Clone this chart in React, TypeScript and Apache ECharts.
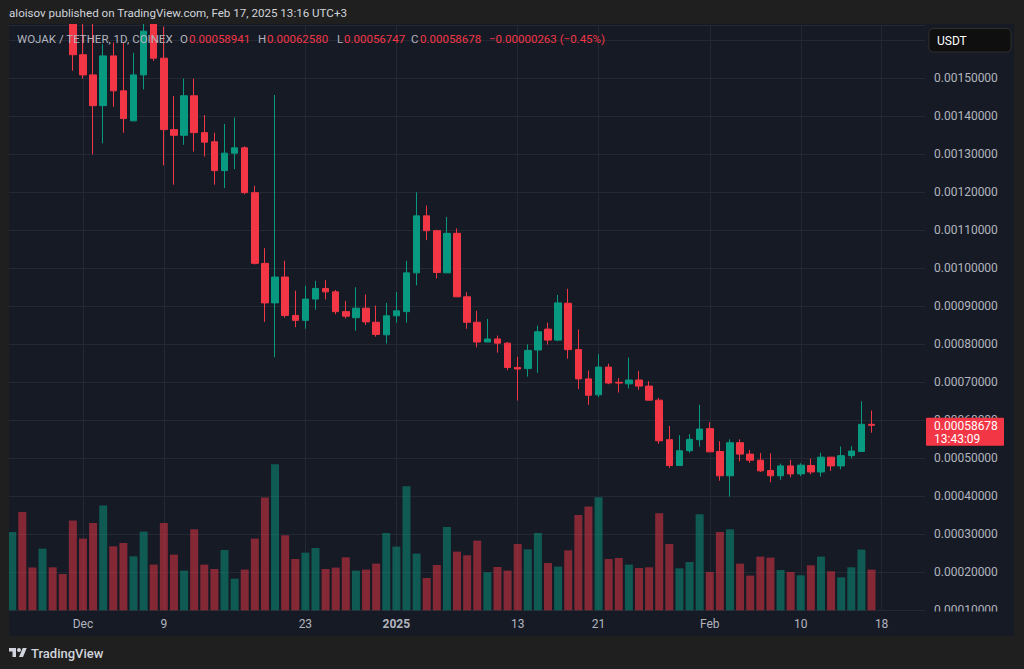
import React, { useEffect, useRef } from "react";
import * as echarts from "echarts";

// Daily candles, Nov 24 2024 (index 0) .. Feb 17 2025 (index 85)
const opens = [
  0.00172, 0.00181, 0.00176, 0.00171, 0.00178, 0.00172, 0.00168, 0.001562, 0.001509, 0.001428,
  0.001559, 0.001467, 0.001388, 0.001509, 0.00165, 0.001553, 0.001365, 0.00135, 0.001454, 0.001357,
  0.001333, 0.001257, 0.001303, 0.001317, 0.001199, 0.001013, 0.000909, 0.000977, 0.000876, 0.000863,
  0.000919, 0.000947, 0.000938, 0.000886, 0.00087, 0.000895, 0.000858, 0.000825, 0.000875, 0.000886,
  0.000988, 0.001138, 0.001099, 0.000988, 0.001092, 0.000925, 0.000858, 0.000806, 0.000814, 0.000803,
  0.000739, 0.000736, 0.000785, 0.00084, 0.000811, 0.000908, 0.000786, 0.000709, 0.000667, 0.00074,
  0.0007, 0.000696, 0.000706, 0.00069, 0.000653, 0.000549, 0.000481, 0.00052, 0.000549, 0.000578,
  0.000518, 0.000454, 0.000541, 0.000511, 0.000495, 0.000468, 0.000454, 0.00048, 0.000459, 0.000481,
  0.000464, 0.000503, 0.00048, 0.000507, 0.000518, 0.00058941,
];
const closes = [
  0.00181, 0.00176, 0.00171, 0.00178, 0.00172, 0.00168, 0.001562, 0.001509, 0.001428, 0.001559,
  0.001467, 0.001394, 0.001509, 0.001624, 0.001553, 0.001365, 0.00135, 0.001454, 0.001357, 0.001332,
  0.001257, 0.001303, 0.001317, 0.001199, 0.001013, 0.000909, 0.000977, 0.000876, 0.000863, 0.000919,
  0.000947, 0.000938, 0.000886, 0.000874, 0.000895, 0.000859, 0.000826, 0.000875, 0.000888, 0.000988,
  0.001138, 0.001099, 0.000989, 0.001092, 0.000925, 0.000858, 0.000806, 0.000814, 0.000803, 0.000739,
  0.000735, 0.000784, 0.000833, 0.000811, 0.000909, 0.000786, 0.000709, 0.000666, 0.00074, 0.000698,
  0.000698, 0.000706, 0.00069, 0.000653, 0.000546, 0.000481, 0.00052, 0.00055, 0.000577, 0.000517,
  0.000454, 0.000541, 0.000511, 0.000495, 0.000467, 0.000454, 0.00048, 0.000459, 0.000482, 0.000464,
  0.000503, 0.00048, 0.000507, 0.000519, 0.00058941, 0.00058678,
];
const lows = [
  0.00169, 0.00173, 0.00168, 0.00169, 0.0017, 0.00166, 0.00152, 0.001499, 0.0013, 0.001329,
  0.001425, 0.001357, 0.001388, 0.001471, 0.001546, 0.001271, 0.00122, 0.001325, 0.001307, 0.001294,
  0.00122, 0.001211, 0.001261, 0.001195, 0.00101, 0.000859, 0.000766, 0.00087, 0.000845, 0.000841,
  0.000891, 0.000918, 0.000879, 0.000868, 0.000836, 0.000851, 0.00082, 0.000802, 0.000857, 0.000857,
  0.000955, 0.001074, 0.000973, 0.000988, 0.000925, 0.000841, 0.000792, 0.000806, 0.000778, 0.000732,
  0.000652, 0.000715, 0.000725, 0.000799, 0.000808, 0.000762, 0.000682, 0.000641, 0.000661, 0.000695,
  0.000673, 0.000684, 0.00068, 0.000653, 0.000538, 0.000475, 0.000481, 0.000515, 0.000531, 0.000517,
  0.000441, 0.000399, 0.000492, 0.000488, 0.000464, 0.000437, 0.000443, 0.00045, 0.000453, 0.000458,
  0.000452, 0.000467, 0.000471, 0.0005, 0.000518, 0.00056747,
];
const highs = [
  0.00186, 0.00184, 0.00178, 0.00182, 0.0018, 0.00174, 0.0017, 0.00165, 0.00165, 0.00159,
  0.001594, 0.001594, 0.001567, 0.00165, 0.00166, 0.001636, 0.001453, 0.001499, 0.001499, 0.001403,
  0.001357, 0.00138, 0.001397, 0.001321, 0.001217, 0.001053, 0.001456, 0.00102, 0.000941, 0.000954,
  0.000967, 0.000969, 0.000943, 0.000914, 0.00095, 0.000931, 0.000902, 0.000909, 0.000938, 0.00102,
  0.0012, 0.001165, 0.001101, 0.001135, 0.001105, 0.000937, 0.000888, 0.000867, 0.000823, 0.000806,
  0.000767, 0.0008, 0.000849, 0.000857, 0.00093, 0.000946, 0.000839, 0.000731, 0.000774, 0.000749,
  0.000711, 0.000765, 0.00073, 0.000703, 0.000659, 0.000585, 0.000561, 0.000564, 0.000641, 0.000595,
  0.000545, 0.00055, 0.00055, 0.000522, 0.000514, 0.000513, 0.000486, 0.000496, 0.000487, 0.000499,
  0.000515, 0.000503, 0.000531, 0.000532, 0.00065, 0.0006258,
];
// Relative volume (arbitrary units)
const volumes = [
  78.3, 98.3, 42.7, 61.7, 43, 36.3, 89.7, 71.7, 87.3, 104.7,
  64, 67.3, 54, 78.7, 45.7, 87.3, 55.7, 39.7, 81, 45.7,
  41.3, 60.3, 31.7, 40.7, 71.7, 112.7, 146, 75, 51.3, 57.7,
  62.3, 41.3, 42.7, 53, 39.7, 40.7, 46.7, 77.3, 63.7, 124,
  56.7, 32.3, 45.3, 83.3, 58.7, 55, 69.7, 38, 43.3, 39.7,
  66.3, 61, 77.3, 47.3, 43.7, 60, 95.3, 103.7, 113, 51.3,
  52.3, 45.7, 42.3, 43, 97, 66.3, 42, 48.3, 96, 38.3,
  78.3, 81, 46.7, 34.7, 53.7, 52.7, 40.3, 38.3, 35, 45,
  53.7, 39, 33, 43, 60.7, 40.7,
];
// x-axis tick positions (day index) and labels
const tickIdx = [7, 15, 29, 38, 50, 58, 69, 78, 86];
const tickLabels = ["Dec", "9", "23", "2025", "13", "21", "Feb", "10", "18"];
const countdown = "13:43:09";

const UP = "#089981";
const DOWN = "#f23645";
const UP_VOL = "rgba(8,153,129,0.5)";
const DOWN_VOL = "rgba(242,54,69,0.5)";
const PANE = "#161a25";
const OUTER = "#1f1f1f";
const GRID = "#242833";
const AXIS_TXT = "#b2b5be";
const FONT = "Roboto, 'Noto Sans', sans-serif";

const TV_LOGO = "M14 22H7V11H0V4h14v18zM28 22h-8l7.5-18h8L28 22z";

export default function App() {
  const ref = useRef<HTMLDivElement>(null);

  useEffect(() => {
    document.body.style.margin = "0";
    try {
      echarts.graphic.registerShape("tvlogo", echarts.graphic.extendPath(TV_LOGO, {}));
    } catch (e) {}
    const chart = echarts.init(ref.current!, null, { renderer: "svg" });

    const n = closes.length;
    const last = n - 1;
    const candleData = closes.map((c, i) => [i, opens[i], c, lows[i], highs[i]]);
    const volData = volumes.map((v, i) => ({
      value: [i, v],
      itemStyle: { color: closes[i] >= opens[i] ? UP_VOL : DOWN_VOL },
    }));

    chart.setOption({
      animation: false,
      backgroundColor: PANE,
      grid: { left: 9, right: 99, top: 25.1, bottom: 58.7 },
      xAxis: {
        type: "value",
        min: -0.3165,
        max: 90.29,
        axisLine: { show: false },
        axisTick: { show: false, customValues: tickIdx },
        axisLabel: {
          customValues: tickIdx,
          color: AXIS_TXT,
          fontSize: 12,
          fontFamily: FONT,
          margin: 8,
          formatter: (v: number) => {
            const k = tickIdx.indexOf(Math.round(v));
            const t = k >= 0 ? tickLabels[k] : "";
            return t === "2025" ? "{b|" + t + "}" : t;
          },
          rich: { b: { fontWeight: "bold", color: AXIS_TXT, fontSize: 12, fontFamily: FONT } },
        },
        splitLine: { show: true, lineStyle: { color: GRID, width: 1 } },
      },
      yAxis: [
        {
          type: "value",
          position: "right",
          min: 0.0001,
          max: 0.00164,
          interval: 0.0001,
          axisLine: { show: false },
          axisTick: { show: false },
          axisLabel: {
            color: AXIS_TXT,
            fontSize: 12,
            fontFamily: FONT,
            margin: 9,
            showMaxLabel: false,
            // the 0.0016 label sits under the currency box in the reference
            formatter: (v: number) => (v > 0.00155 ? "" : v.toFixed(8)),
          },
          splitLine: { show: true, lineStyle: { color: GRID, width: 1 } },
        },
        {
          type: "value",
          min: 0,
          max: 585.2,
          show: false,
          splitLine: { show: false },
        },
      ],
      series: [
        {
          type: "bar",
          xAxisIndex: 0,
          yAxisIndex: 1,
          data: volData,
          barWidth: 8,
          z: 2,
        },
        {
          type: "candlestick",
          xAxisIndex: 0,
          yAxisIndex: 0,
          data: candleData,
          encode: { x: 0, y: [1, 2, 3, 4] },
          barWidth: 7,
          clip: true,
          z: 3,
          itemStyle: {
            color: UP,
            color0: DOWN,
            borderColor: UP,
            borderColor0: DOWN,
            borderWidth: 1,
          },
          markLine: {
            silent: true,
            symbol: ["none", "none"],
            label: { show: false },
            lineStyle: { color: DOWN, type: [1.5, 2.5], width: 1 },
            data: [{ yAxis: closes[last] }],
          },
        },
      ],
    });

    const py = chart.convertToPixel({ yAxisIndex: 0 }, closes[last]) as number;
    const chg = closes[last] - closes[last - 1];
    const pct = (chg / closes[last - 1]) * 100;
    const fmt = (v: number) => v.toFixed(8).replace("-", "\u2212");
    const chgText = fmt(chg) + " (" + pct.toFixed(2).replace("-", "\u2212") + "%)";

    const txt = (text: string, x: number, y: number, fill: string, size: number, extra: any = {}) => ({
      type: "text",
      x,
      y,
      z: 60,
      silent: true,
      style: { text, fill, fontSize: size, fontFamily: FONT, verticalAlign: "middle", align: "left", ...extra },
    });

    chart.setOption({
      graphic: {
        elements: [
          // outer frame
          { type: "rect", z: 50, silent: true, shape: { x: 0, y: 0, width: 1024, height: 24 }, style: { fill: OUTER } },
          { type: "rect", z: 50, silent: true, shape: { x: 0, y: 636, width: 1024, height: 33 }, style: { fill: OUTER } },
          { type: "rect", z: 50, silent: true, shape: { x: 0, y: 0, width: 9, height: 669 }, style: { fill: OUTER } },
          { type: "rect", z: 50, silent: true, shape: { x: 1014, y: 0, width: 10, height: 669 }, style: { fill: OUTER } },
          // cut the lowest price label at the pane bottom
          { type: "rect", z: 50, silent: true, shape: { x: 926, y: 611.5, width: 88, height: 24.5 }, style: { fill: PANE } },
          txt("aloisov published on TradingView.com, Feb 17, 2025 13:16 UTC+3", 9, 13, "#d1d4dc", 11.6),
          // legend
          txt("WOJAK / TETHER, 1D, COINEX", 17, 39, AXIS_TXT, 11.5),
          txt("O", 180, 39, AXIS_TXT, 11.5),
          txt(fmt(opens[last]), 189, 39, DOWN, 11.5),
          txt("H", 258, 39, AXIS_TXT, 11.5),
          txt(fmt(highs[last]), 267, 39, DOWN, 11.5),
          txt("L", 337, 39, AXIS_TXT, 11.5),
          txt(fmt(lows[last]), 344, 39, DOWN, 11.5),
          txt("C", 411, 39, AXIS_TXT, 11.5),
          txt(fmt(closes[last]), 420, 39, DOWN, 11.5),
          txt(chgText, 489, 39, DOWN, 11.5),
          // currency box
          {
            type: "rect",
            z: 55,
            silent: true,
            shape: { x: 929, y: 28.5, width: 82, height: 23.5, r: 4 },
            style: { fill: "#0f0f0f", stroke: "#2e2e2e", lineWidth: 1 },
          },
          txt("USDT", 937, 40.5, "#ffffff", 12),
          // last price tag
          {
            type: "rect",
            z: 55,
            silent: true,
            shape: { x: 926, y: py - 7.5, width: 78, height: 28, r: 1 },
            style: { fill: DOWN },
          },
          txt(fmt(closes[last]), 934, py + 0.5, "#ffffff", 12),
          txt(countdown, 934, py + 13.5, "#ffffff", 12),
          // TradingView logo
          { type: "tvlogo", z: 60, silent: true, x: 9, y: 646, scaleX: 0.5, scaleY: 0.5, style: { fill: "#d1d4dc" } },
          { type: "circle", z: 60, silent: true, shape: { cx: 19, cy: 650, r: 2 }, style: { fill: "#d1d4dc" } },
          txt("TradingView", 31, 653, "#d1d4dc", 13, { fontWeight: 500 }),
        ],
      },
    });

    return () => chart.dispose();
  }, []);

  return <div ref={ref} style={{ width: 1024, height: 669 }} />;
}
